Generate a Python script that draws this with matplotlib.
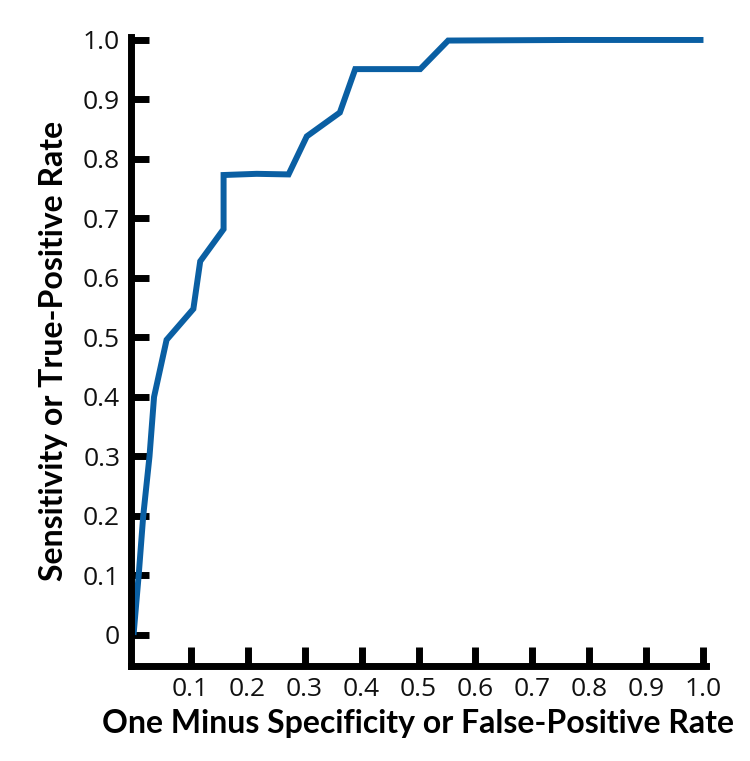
import matplotlib
matplotlib.use("Agg")
import matplotlib.pyplot as plt

fpr = [0.0, 0.009, 0.017, 0.028, 0.036, 0.058, 0.105, 0.117, 0.158, 0.158,
       0.216, 0.272, 0.304, 0.362, 0.389, 0.503, 0.552, 0.766, 1.0]
tpr = [0.0, 0.10, 0.20, 0.30, 0.40, 0.496, 0.548, 0.628, 0.682, 0.773,
       0.775, 0.774, 0.838, 0.878, 0.951, 0.951, 0.999, 1.0, 1.0]

xticks = [0.1, 0.2, 0.3, 0.4, 0.5, 0.6, 0.7, 0.8, 0.9, 1.0]
xtick_labels = ["0.1", "0.2", "0.3", "0.4", "0.5", "0.6", "0.7", "0.8", "0.9", "1.0"]
yticks = [0.0, 0.1, 0.2, 0.3, 0.4, 0.5, 0.6, 0.7, 0.8, 0.9, 1.0]
ytick_labels = ["0", "0.1", "0.2", "0.3", "0.4", "0.5", "0.6", "0.7", "0.8", "0.9", "1.0"]

fig = plt.figure(figsize=(7.5, 7.61), dpi=100)
ax = fig.add_axes([0.175, 0.125, 0.766, 0.8264])

ax.plot(fpr, tpr, color="#0a5fa3", lw=4.3, solid_joinstyle="miter", solid_capstyle="butt")

ax.set_xlim(-0.004, 1.004)
ax.set_ylim(-0.052, 1.005)

for s in ["top", "right"]:
    ax.spines[s].set_visible(False)
for s in ["left", "bottom"]:
    ax.spines[s].set_linewidth(5)
    ax.spines[s].set_color("black")
    ax.spines[s].set_capstyle("projecting")

tick_font = dict(fontfamily="Open Sans", fontweight="normal", fontsize=19, color="#111111")
ax.set_xticks(xticks)
ax.set_xticklabels(xtick_labels, **tick_font)
ax.set_yticks(yticks)
ax.set_yticklabels(ytick_labels, **tick_font)
ax.tick_params(axis="x", direction="in", length=14, width=5, pad=8)
ax.tick_params(axis="y", direction="in", length=13, width=5, pad=8)

ax.set_xlabel("One Minus Specificity or False-Positive Rate", fontfamily="Lato",
              fontweight="bold", fontsize=23, labelpad=5)
ax.set_ylabel("Sensitivity or True-Positive Rate", fontfamily="Lato",
              fontweight="bold", fontsize=23, labelpad=11)

fig.savefig("out.png", dpi=100)
